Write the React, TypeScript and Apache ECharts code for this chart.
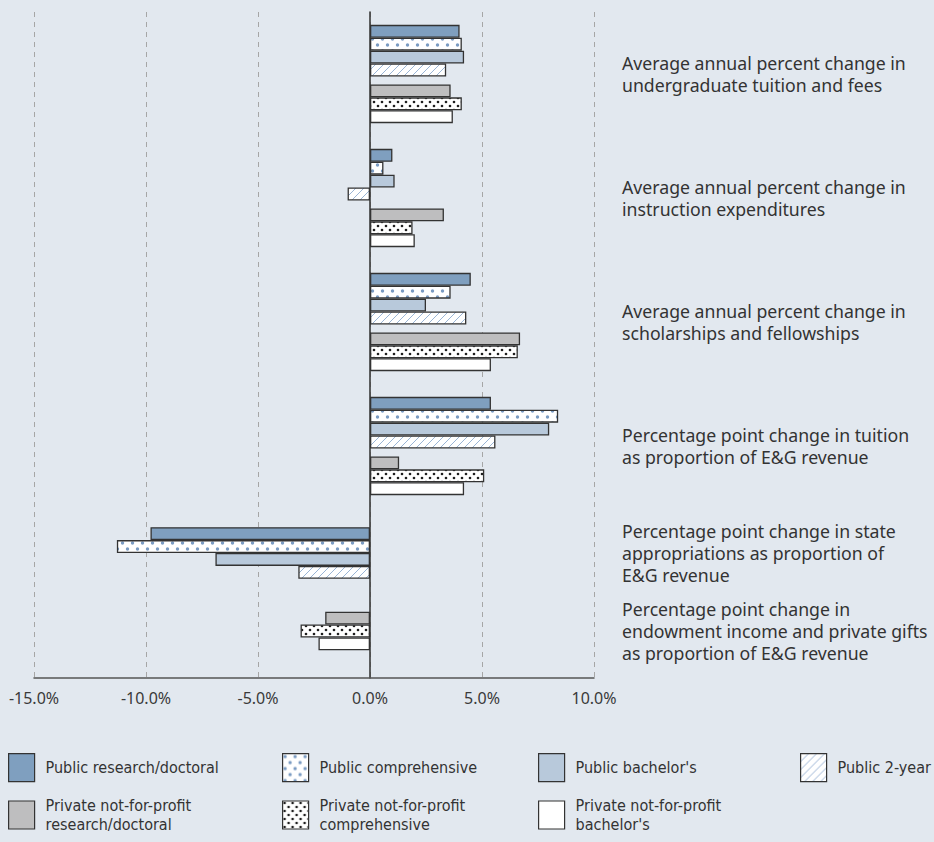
import React, { useEffect, useRef } from "react";
import * as echarts from "echarts";

// ---------- data ----------
const categories = [
  "Average annual percent change in\nundergraduate tuition and fees",
  "Average annual percent change in\ninstruction expenditures",
  "Average annual percent change in\nscholarships and fellowships",
  "Percentage point change in tuition\nas proportion of E&G revenue",
  "Percentage point change in state\nappropriations as proportion of\nE&G revenue",
  "Percentage point change in\nendowment income and private gifts\nas proportion of E&G revenue",
];

const seriesNames = [
  "Public research/doctoral",
  "Public comprehensive",
  "Public bachelor's",
  "Public 2-year",
  "Private not-for-profit research/doctoral",
  "Private not-for-profit comprehensive",
  "Private not-for-profit bachelor's",
];

const publicResearch = [4.0, 1.0, 4.5, 5.4, -9.8, null];
const publicComprehensive = [4.1, 0.6, 3.6, 8.4, -11.3, null];
const publicBachelors = [4.2, 1.1, 2.5, 8.0, -6.9, null];
const public2Year = [3.4, -1.0, 4.3, 5.6, -3.2, null];
const privateResearch = [3.6, 3.3, 6.7, 1.3, null, -2.0];
const privateComprehensive = [4.1, 1.9, 6.6, 5.1, null, -3.1];
const privateBachelors = [3.7, 2.0, 5.4, 4.2, null, -2.3];

const axisMin = -15;
const axisMax = 10;
const axisInterval = 5;

// ---------- helpers ----------
function makePattern(w: number, h: number, draw: (ctx: CanvasRenderingContext2D) => void) {
  const c = document.createElement("canvas");
  c.width = w;
  c.height = h;
  const ctx = c.getContext("2d") as CanvasRenderingContext2D;
  ctx.fillStyle = "#ffffff";
  ctx.fillRect(0, 0, w, h);
  draw(ctx);
  return { image: c.toDataURL(), repeat: "repeat", imageWidth: w, imageHeight: h } as any;
}

function dot(ctx: CanvasRenderingContext2D, x: number, y: number, r: number, color: string) {
  ctx.fillStyle = color;
  ctx.beginPath();
  ctx.arc(x, y, r, 0, Math.PI * 2);
  ctx.fill();
}

export default function App() {
  const ref = useRef<HTMLDivElement>(null);

  useEffect(() => {
    if (!ref.current) return;
    const chart = echarts.init(ref.current, undefined, { renderer: "svg" });

    const blueDots = makePattern(10, 12, (ctx) => {
      dot(ctx, 2.5, 3, 1.7, "#7a9bc2");
      dot(ctx, 7.5, 9, 1.7, "#7a9bc2");
    });
    const blackDots = makePattern(8, 8, (ctx) => {
      dot(ctx, 2, 2, 1.3, "#1e1e1e");
      dot(ctx, 6, 6, 1.3, "#1e1e1e");
    });
    const hatch = makePattern(8, 8, (ctx) => {
      ctx.strokeStyle = "#8fadd0";
      ctx.lineWidth = 0.9;
      ctx.beginPath();
      ctx.moveTo(0, 8);
      ctx.lineTo(8, 0);
      ctx.moveTo(-4, 4);
      ctx.lineTo(4, -4);
      ctx.moveTo(4, 12);
      ctx.lineTo(12, 4);
      ctx.stroke();
    });

    const fills: any[] = [
      "#7f9fbf",
      blueDots,
      "#b8c9db",
      hatch,
      "#bebebf",
      blackDots,
      "#ffffff",
    ];
    const values = [
      publicResearch,
      publicComprehensive,
      publicBachelors,
      public2Year,
      privateResearch,
      privateComprehensive,
      privateBachelors,
    ];

    const barW = 12.9;
    const border = { borderColor: "#333333", borderWidth: 1.3 };
    const fontLabel = "'Noto Sans', sans-serif";
    const fontLegend = "'DejaVu Sans Condensed', 'Noto Sans', sans-serif";

    const gridLeft = 34;
    const gridWidth = 560;

    const valueAxis = (gridIndex: number, main: boolean) => ({
      type: "value",
      gridIndex,
      min: axisMin,
      max: axisMax,
      interval: axisInterval,
      show: main,
      axisLine: { show: main, onZero: false, lineStyle: { color: "#555555", width: 1.5 } },
      axisTick: { show: false },
      splitLine: {
        show: main,
        lineStyle: { color: "#a6a6a6", type: [5, 5], width: 1 },
      },
      axisLabel: {
        show: main,
        margin: 12,
        fontSize: 16,
        color: "#3a3a3a",
        fontFamily: fontLabel,
        formatter: (v: number) => v.toFixed(1) + "%",
      },
    });

    const catAxis = (gridIndex: number, data: string[], padTop: number) => ({
      type: "category",
      gridIndex,
      data,
      inverse: true,
      position: "right",
      axisLine: { show: false, onZero: false },
      axisTick: { show: false },
      splitLine: { show: false },
      axisLabel: {
        margin: 28,
        align: "left",
        verticalAlign: "middle",
        fontSize: 17.7,
        lineHeight: 22,
        color: "#333333",
        fontFamily: fontLabel,
        padding: [padTop, 0, 0, 0],
      },
    });

    const series: any[] = [];
    // grid A: groups 1-4
    for (let i = 0; i < 7; i++) {
      if (i === 4) {
        series.push({
          type: "bar",
          name: "__gapA",
          xAxisIndex: 1,
          yAxisIndex: 1,
          barWidth: 8,
          data: [null, null, null, null],
          silent: true,
        });
      }
      series.push({
        type: "bar",
        name: seriesNames[i],
        xAxisIndex: 1,
        yAxisIndex: 1,
        barWidth: barW,
        barGap: "0%",
        data: values[i].slice(0, 4),
        itemStyle: { color: fills[i], ...border },
      });
    }
    // grid B: group 5 (public only)
    for (let i = 0; i < 4; i++) {
      series.push({
        type: "bar",
        name: seriesNames[i],
        xAxisIndex: 2,
        yAxisIndex: 2,
        barWidth: barW,
        barGap: "0%",
        data: [values[i][4]],
        itemStyle: { color: fills[i], ...border },
      });
    }
    // grid C: group 6 (private only)
    for (let i = 4; i < 7; i++) {
      series.push({
        type: "bar",
        name: seriesNames[i],
        xAxisIndex: 3,
        yAxisIndex: 3,
        barWidth: barW,
        barGap: "0%",
        data: [values[i][5]],
        itemStyle: { color: fills[i], ...border },
      });
    }

    const legendPos = [
      [8, 753],
      [282, 753],
      [538, 753],
      [800, 753],
      [8, 796],
      [282, 796],
      [538, 796],
    ];
    const legends = seriesNames.map((name, i) => ({
      data: [name],
      left: legendPos[i][0],
      top: legendPos[i][1],
      padding: 0,
      icon: "rect",
      itemWidth: 26,
      itemHeight: 28,
      selectedMode: false,
      itemStyle: { borderColor: "#333333", borderWidth: 1.2 },
      formatter: (n: string) => n.replace("Private not-for-profit ", "Private not-for-profit\n"),
      textStyle: {
        fontSize: 16,
        lineHeight: 19,
        color: "#333333",
        fontFamily: fontLegend,
        padding: [0, 0, 0, 6],
      },
    }));

    chart.setOption({
      animation: false,
      backgroundColor: "#e2e8ef",
      grid: [
        { left: gridLeft, width: gridWidth, top: 12, height: 666 },
        { left: gridLeft, width: gridWidth, top: 12, height: 496 },
        { left: gridLeft, width: gridWidth, top: 523, height: 60 },
        { left: gridLeft, width: gridWidth, top: 601, height: 60 },
      ],
      xAxis: [valueAxis(0, true), valueAxis(1, false), valueAxis(2, false), valueAxis(3, false)],
      yAxis: [
        {
          type: "category",
          gridIndex: 0,
          data: [""],
          axisLine: { show: true, onZero: true, lineStyle: { color: "#3a3a3a", width: 1.6 } },
          axisTick: { show: false },
          axisLabel: { show: false },
          splitLine: { show: false },
        },
        catAxis(1, categories.slice(0, 4), 0),
        catAxis(2, [categories[4]], 48),
        catAxis(3, [categories[5]], 4),
      ],
      legend: legends,
      series,
    });

    return () => chart.dispose();
  }, []);

  return (
    <div
      ref={ref}
      style={{ position: "fixed", left: 0, top: 0, width: 934, height: 842, background: "#e2e8ef" }}
    />
  );
}
